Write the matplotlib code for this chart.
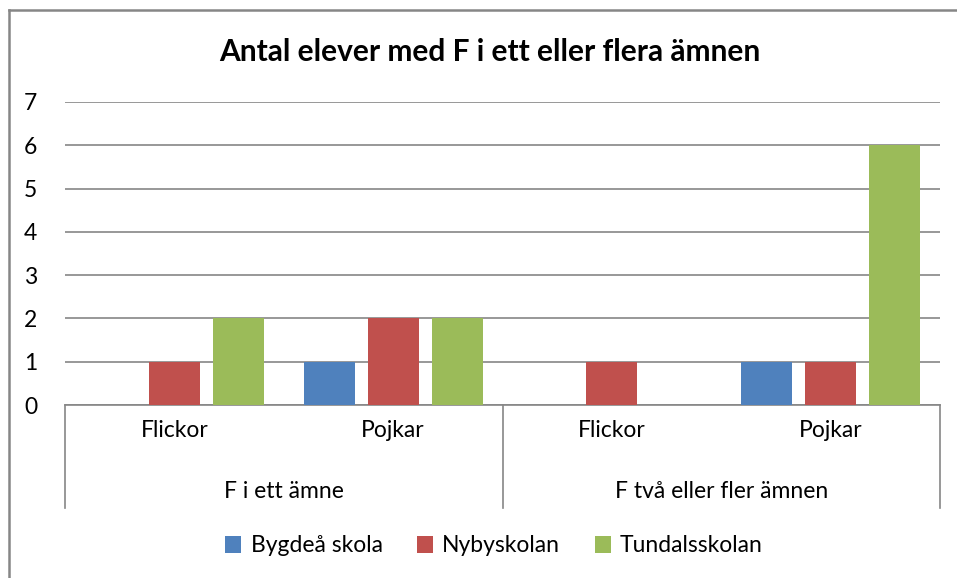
import matplotlib
matplotlib.use("Agg")
import matplotlib.pyplot as plt
import numpy as np
from matplotlib.lines import Line2D
from matplotlib.transforms import blended_transform_factory

TITLE = "Antal elever med F i ett eller flera ämnen"
GROUPS = ["F i ett ämne", "F två eller fler ämnen"]
SUBCATEGORIES = ["Flickor", "Pojkar", "Flickor", "Pojkar"]
SERIES = ["Bygdeå skola", "Nybyskolan", "Tundalsskolan"]
BYGDEA = [0, 1, 0, 1]
NYBY = [1, 2, 1, 1]
TUNDAL = [2, 2, 0, 6]
COLORS = ["#4F81BD", "#C0504D", "#9BBB59"]

W, H = 957, 578
plt.rcParams["font.family"] = ["Lato", "DejaVu Sans"]
LABEL_SIZE = 16.5

fig = plt.figure(figsize=(W / 100, H / 100), dpi=100)
fig.patch.set_facecolor("white")

left, right, top, bottom = 65, 940, 102, 405
ax = fig.add_axes([left / W, 1 - bottom / H, (right - left) / W, (bottom - top) / H])

positions = np.arange(len(SUBCATEGORIES))
bar_width = 0.233
spacing = 0.293
for i, (name, values) in enumerate(zip(SERIES, [BYGDEA, NYBY, TUNDAL])):
    ax.bar(positions + (i - 1) * spacing, values, width=bar_width, color=COLORS[i], label=name, zorder=3)

ax.set_xlim(-0.5, len(SUBCATEGORIES) - 0.5)
ax.set_ylim(0, 7)
ax.set_yticks(range(0, 8))
ax.yaxis.grid(True, color="#868686", linewidth=1.2, zorder=0)
for side in ["left", "right", "top"]:
    ax.spines[side].set_visible(False)
ax.spines["bottom"].set_color("#868686")
ax.spines["bottom"].set_linewidth(1.2)
ax.tick_params(axis="y", length=0, pad=20, labelsize=LABEL_SIZE)
ax.tick_params(axis="x", length=0, pad=11, labelsize=LABEL_SIZE)
ax.set_xticks(positions)
ax.set_xticklabels(SUBCATEGORIES)

# outer category labels and separators
trans = blended_transform_factory(ax.transData, ax.transAxes)
sep_depth = -(508 - bottom) / (bottom - top)
for x in [-0.5, 1.5, 3.5]:
    ax.add_line(Line2D([x, x], [0, sep_depth], transform=trans, color="#868686",
                       linewidth=1.2, clip_on=False))
for g, name in enumerate(GROUPS):
    ax.text(2 * g + 0.5, -(491 - bottom) / (bottom - top), name, transform=trans,
            ha="center", va="center", fontsize=LABEL_SIZE)

fig.text(490 / W, 1 - 52 / H, TITLE, ha="center", va="center", fontsize=21.5, fontweight="bold")

fig.legend(loc="center", bbox_to_anchor=(494 / W, 1 - 546 / H), ncol=3, frameon=False,
           fontsize=LABEL_SIZE, handlelength=0.7, handleheight=0.7, handletextpad=0.4, columnspacing=1.5)

# chart frame (left and top edges visible)
fig.add_artist(Line2D([9 / W, 9 / W], [0, 1 - 10 / H], transform=fig.transFigure, color="#868686", linewidth=1.8))
fig.add_artist(Line2D([9 / W, 1], [1 - 10 / H, 1 - 10 / H], transform=fig.transFigure, color="#868686", linewidth=1.8))

fig.savefig("out.png", dpi=100)
